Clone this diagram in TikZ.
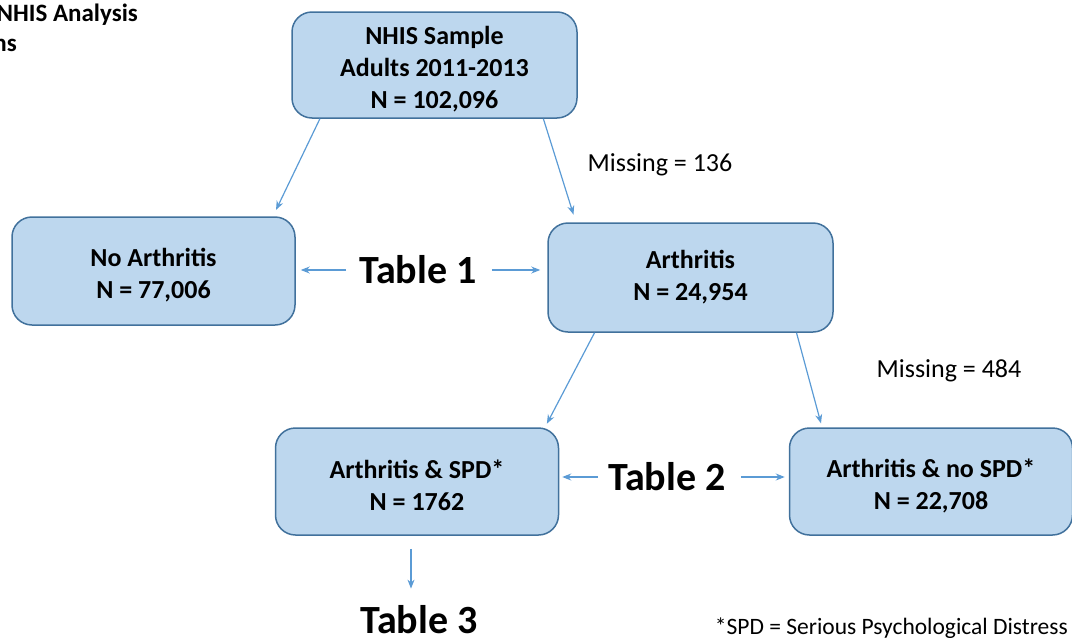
\documentclass[tikz,border=0pt]{standalone}
\usepackage{fontspec}
\setmainfont{Carlito}
\definecolor{boxfill}{HTML}{BDD7EE}
\definecolor{boxline}{HTML}{41719C}
\definecolor{arrowblue}{HTML}{5B9BD5}
\usetikzlibrary{arrows.meta, calc}
% taller first line, to sit the box text a little lower
\newcommand{\firstline}{\rule{0pt}{27pt}}

\tikzset{
  flowbox/.style={draw=boxline, fill=boxfill, line width=1.5pt,
    rounded corners=20pt, minimum width=283pt, minimum height=107pt,
    align=center, inner sep=0pt,
    font=\bfseries\fontsize{26}{32}\selectfont},
  tablabel/.style={inner sep=0pt, font=\bfseries\fontsize{40}{48}\selectfont},
  notelabel/.style={inner sep=0pt, font=\fontsize{26}{30}\selectfont},
  flowarrow/.style={draw=arrowblue, line width=1.2pt,
    -{Stealth[length=9pt, width=7pt]}},
}

\begin{document}
\begin{tikzpicture}[x=1pt, y=-1pt]
    \useasboundingbox (0,0) rectangle (1072,643);
    % Title (cut at the left edge)
    \node[inner sep=0pt, anchor=east, font=\bfseries\fontsize{25}{30}\selectfont]
      (title1) at (138,15) {NHIS Analysis};
    \node[inner sep=0pt, anchor=east, font=\bfseries\fontsize{25}{30}\selectfont]
      (title2) at (17,45) {ns};
    % Boxes
    \node[flowbox, minimum width=285pt, minimum height=106pt] (nhis) at (434.5,65)
      {\firstline NHIS Sample\\Adults 2011-2013\\N = 102,096};
    \node[flowbox, minimum height=108pt] (noarth) at (153.5,271)
      {\firstline No Arthritis\\N = 77,006};
    \node[flowbox, minimum width=285pt, minimum height=109pt] (arth) at (690.5,277.5)
      {Arthritis\\N = 24,954};
    \node[flowbox] (spd) at (417,481.5)
      {\firstline Arthritis \& SPD*\\N = 1762};
    \node[flowbox] (nospd) at (931,481.5)
      {\firstline Arthritis \& no SPD*\\N = 22,708};
    % Table labels
    \node[tablabel] (tab1) at (418,270) {Table 1};
    \node[tablabel] (tab2) at (667,477) {Table 2};
    \node[tablabel] (tab3) at (419,620) {Table 3};
    % Notes
    \node[notelabel] (miss1) at (660,165) {Missing = 136};
    \node[notelabel] (miss2) at (949,371) {Missing = 484};
    \node[inner sep=0pt, anchor=east, font=\fontsize{23.5}{28}\selectfont]
      (footnote) at (1068,628) {*SPD = Serious Psychological Distress};
    % Split arrows
    \draw[flowarrow, shorten >=7pt]
      ($(nhis.south west)!0.1!(nhis.south east)$) --
      ($(noarth.north west)!0.92!(noarth.north east)$);
    \draw[flowarrow, shorten >=8pt]
      ($(nhis.south west)!0.88!(nhis.south east)$) --
      ($(arth.north west)!0.1!(arth.north east)$);
    \draw[flowarrow, shorten >=4pt]
      ($(arth.south west)!0.165!(arth.south east)$) --
      ($(spd.north west)!0.95!(spd.north east)$);
    \draw[flowarrow, shorten >=4pt]
      ($(arth.south west)!0.87!(arth.south east)$) --
      ($(nospd.north west)!0.117!(nospd.north east)$);
    % Table arrows
    \draw[flowarrow, shorten <=13pt, shorten >=5pt]
      (tab1.west) -- (tab1.west -| noarth.east);
    \draw[flowarrow, shorten <=15pt, shorten >=7pt]
      (tab1.east) -- (tab1.east -| arth.west);
    \draw[flowarrow, shorten <=10pt, shorten >=3pt]
      (tab2.west) -- (tab2.west -| spd.east);
    \draw[flowarrow, shorten <=15pt, shorten >=4pt]
      (tab2.east) -- (tab2.east -| nospd.west);
    \draw[flowarrow, shorten <=13pt, shorten >=17pt]
      ([xshift=-6pt]spd.south) -- ([xshift=-6pt]spd.south |- tab3.north);
\end{tikzpicture}
\end{document}
